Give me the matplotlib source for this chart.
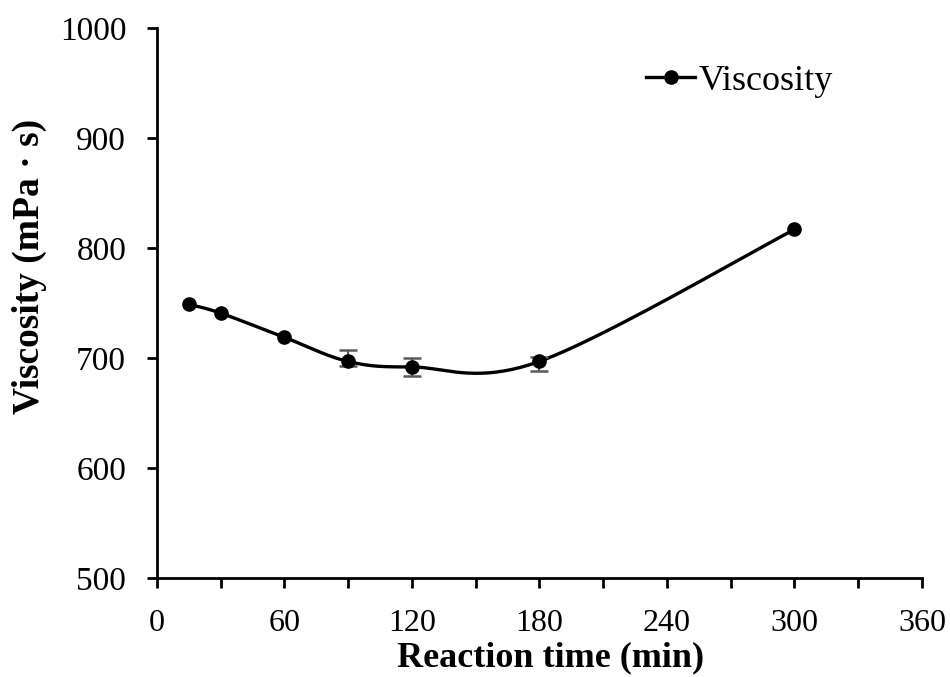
import numpy as np
import matplotlib.pyplot as plt
from matplotlib.ticker import MultipleLocator

time = [15, 30, 60, 90, 120, 180, 300]
viscosity = [749, 741, 719, 697, 692, 697, 817]
err_low = [0, 0, 0, 4, 8, 9, 0]
err_high = [0, 0, 0, 10, 8, 4, 0]


def smooth_curve(x, y, n=40):
    # Catmull-Rom style smoothing through every point
    x = np.asarray(x, float)
    y = np.asarray(y, float)
    px = np.concatenate([[x[0]], x, [x[-1]]])
    py = np.concatenate([[y[0]], y, [y[-1]]])
    xs, ys = [], []
    t = np.linspace(0, 1, n)
    for i in range(1, len(px) - 2):
        p0 = np.array([px[i], py[i]])
        p3 = np.array([px[i + 1], py[i + 1]])
        c1 = p0 + (np.array([px[i + 1], py[i + 1]]) - np.array([px[i - 1], py[i - 1]])) / 6
        c2 = p3 - (np.array([px[i + 2], py[i + 2]]) - np.array([px[i], py[i]])) / 6
        b = ((1 - t) ** 3)[:, None] * p0 + (3 * (1 - t) ** 2 * t)[:, None] * c1 \
            + (3 * (1 - t) * t ** 2)[:, None] * c2 + (t ** 3)[:, None] * p3
        xs.extend(b[:, 0])
        ys.extend(b[:, 1])
    return xs, ys


plt.rcParams['font.family'] = ['Liberation Serif', 'DejaVu Serif']

fig = plt.figure(figsize=(9.5, 6.77), dpi=100)
ax = fig.add_axes([0.165, 0.146, 0.8055, 0.8124])

sx, sy = smooth_curve(time, viscosity)
ax.plot(sx, sy, color='black', lw=2.4, zorder=2)

# error bars only where there is a spread
has_err = [i for i in range(len(time)) if err_low[i] or err_high[i]]
ax.errorbar([time[i] for i in has_err], [viscosity[i] for i in has_err],
            yerr=[[err_low[i] for i in has_err], [err_high[i] for i in has_err]],
            fmt='none', ecolor='#595959', elinewidth=1.5, capsize=6.5,
            capthick=1.8, zorder=3)
ax.plot(time, viscosity, 'o', color='black', ms=9.5, zorder=4)
ax.plot([], [], '-o', color='black', lw=2.4, ms=9.5, label='Viscosity')

ax.set_xlim(0, 360)
ax.set_ylim(500, 1000)
ax.xaxis.set_major_locator(MultipleLocator(60))
ax.xaxis.set_minor_locator(MultipleLocator(30))
ax.yaxis.set_major_locator(MultipleLocator(100))

for side in ['top', 'right']:
    ax.spines[side].set_visible(False)
for side in ['left', 'bottom']:
    ax.spines[side].set_linewidth(2)

ax.tick_params(axis='both', which='both', direction='out', width=2, length=7)
ax.tick_params(axis='y', labelsize=24, pad=15)
ax.tick_params(axis='x', labelsize=23, pad=15)

ax.set_xlabel('Reaction time (min)', fontsize=26, fontweight='bold')
ax.xaxis.set_label_coords(0.514, -0.115)
ax.set_ylabel('Viscosity (mPa \u00b7 s)', fontsize=27, fontweight='bold')
ax.yaxis.set_label_coords(-0.143, 0.567)

ax.legend(loc='upper left', bbox_to_anchor=(0.62, 0.96), frameon=False,
          fontsize=26, handlelength=1.38, handletextpad=0.1, borderaxespad=0)

fig.savefig('out.png', dpi=100)
